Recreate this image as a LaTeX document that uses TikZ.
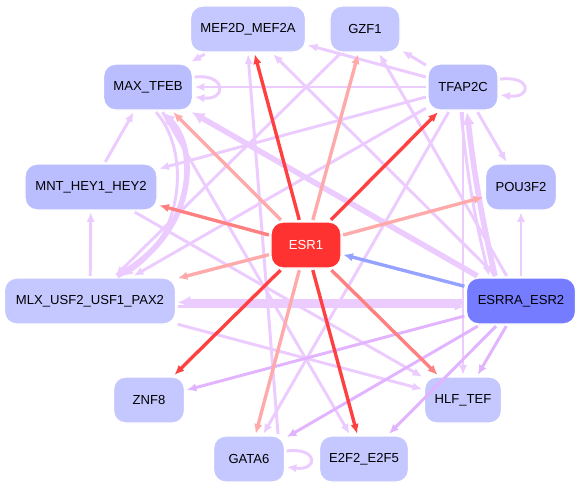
\documentclass[tikz,border=0pt]{standalone}
\usepackage{fontspec}
\setmainfont{Liberation Sans}
\usetikzlibrary{arrows.meta}
\definecolor{tfblue}{RGB}{186,190,255}
\definecolor{tflight}{RGB}{196,200,255}
\definecolor{tfesrra}{RGB}{118,124,255}
\definecolor{tfesr}{RGB}{255,50,50}
\definecolor{lav}{RGB}{236,204,255}
\definecolor{lavdark}{RGB}{226,180,255}
\definecolor{reddark}{RGB}{255,64,64}
\definecolor{redmid}{RGB}{255,128,128}
\definecolor{redlight}{RGB}{255,170,170}
\definecolor{bluedge}{RGB}{150,162,255}

\begin{document}
\begin{tikzpicture}[x=0.025cm, y=0.025cm,
    tf/.style={rectangle, rounded corners=0.3cm, draw=white, line width=1pt, fill=tfblue, minimum height=1.15cm, inner sep=0pt, outer sep=1.5pt, align=center, font=\fontsize{9.3}{11}\selectfont},
    tfl/.style={tf, fill=tflight},
    reg/.style={-{Latex[length=7pt,width=6pt]}, line width=2.1pt, draw=lav},
    regd/.style={reg, draw=lavdark},
    fat/.style={reg, line width=4pt, -{Latex[length=9pt,width=9pt]}},
    hit/.style={-{Latex[length=7pt,width=6pt]}, line width=2.4pt}
  ]
  \useasboundingbox (0,0) rectangle (582,-489);

  % transcription factors
  \node[tfl, minimum width=2.875cm] (mef) at (248,-29) {MEF2D\_MEF2A};
  \node[tfl, minimum width=1.75cm] (gzf) at (365,-29) {GZF1};
  \node[tf, minimum width=2.225cm] (maxt) at (148,-87) {MAX\_TFEB};
  \node[tf, minimum width=1.75cm] (tfap) at (463,-87) {TFAP2C};
  \node[tf, minimum width=3.3cm] (mnt) at (91,-187) {MNT\_HEY1\_HEY2};
  \node[tf, minimum width=1.775cm] (pou) at (521,-187) {POU3F2};
  \node[tf, fill=tfesr, text=white, minimum width=1.75cm] (esr) at (306,-245) {ESR1};
  \node[tfl, minimum width=4.275cm] (mlx) at (90,-301) {MLX\_USF2\_USF1\_PAX2};
  \node[tf, fill=tfesrra, minimum width=2.725cm] (esrra) at (521,-301) {ESRRA\_ESR2};
  \node[tfl, minimum width=1.775cm] (znf) at (149,-400) {ZNF8};
  \node[tfl, minimum width=1.925cm] (hlf) at (463,-400) {HLF\_TEF};
  \node[tfl, minimum width=1.775cm] (gata) at (249,-459) {GATA6};
  \node[tfl, minimum width=2.225cm] (e2f) at (364,-459) {E2F2\_E2F5};

  % self loops
  \draw[reg] (maxt.12) .. controls +(32,4) and +(32,-4) .. (maxt.-12);
  \draw[reg] (tfap.12) .. controls +(32,4) and +(32,-4) .. (tfap.-12);
  \draw[reg] (gata.12) .. controls +(32,4) and +(32,-4) .. (gata.-12);

  % regulations
  \draw[reg] (mef) -- (maxt);
  \draw[reg] (tfap) -- (gzf);
  \draw[reg] (tfap) -- (mef);
  \draw[reg] (tfap) -- (maxt);
  \draw[reg] (tfap) -- (mnt);
  \draw[reg] (tfap) -- (mlx);
  \draw[reg] (tfap) -- (pou);
  \draw[reg] (tfap) -- (hlf);
  \draw[reg] (tfap) -- (gata);
  \draw[reg] ([xshift=-0.05cm]tfap.south) to[bend right=4] ([xshift=-0.8cm]esrra.north);
  \draw[fat] ([xshift=-0.65cm]esrra.north) to[bend left=3] ([xshift=0.1cm]tfap.south);
  \draw[fat] ([xshift=0.675cm]mlx.north) .. controls (195,-235) and (200,-150) .. ([xshift=0.35cm]maxt.south);
  \draw[reg] ([xshift=0.2cm]maxt.south) .. controls (190,-150) and (185,-235) .. ([xshift=0.825cm]mlx.north);
  \draw[reg] (mnt) -- (maxt);
  \draw[reg] (mlx) -- (mnt);
  \draw[reg] (mnt) -- (hlf);
  \draw[reg] (mlx) -- (hlf);
  \draw[reg] (maxt) -- (e2f);
  \draw[reg] (gzf) -- (mlx);
  \draw[reg] ([xshift=0.725cm]gata.north) -- (mef.south);
  \draw[fat] (esrra) -- (maxt);
  \draw[reg] (esrra) -- (mef);
  \draw[reg] (esrra) -- (gzf);
  \draw[reg] (esrra) -- (pou);
  \draw[fat] ([yshift=-0.03cm]esrra.west) -- ([yshift=-0.03cm]mlx.east);
  \draw[reg] ([yshift=-0.14cm]mlx.east) -- ([yshift=-0.14cm]esrra.west);
  \draw[regd] (esrra) -- (hlf);
  \draw[regd] (esrra) -- (e2f);
  \draw[regd] (esrra) -- (gata);
  \draw[regd] (esrra) -- (znf);

  % ESR1 targets
  \draw[hit, reddark] (esr) -- (mef);
  \draw[hit, redlight] (esr) -- (gzf);
  \draw[hit, reddark] (esr) -- (tfap);
  \draw[hit, redlight] (esr) -- (maxt);
  \draw[hit, redmid] (esr) -- (mnt);
  \draw[hit, redlight] (esr) -- (pou);
  \draw[hit, redlight] (esr) -- (mlx);
  \draw[hit, reddark] (esr) -- (znf);
  \draw[hit, redlight] (esr) -- (gata);
  \draw[hit, reddark] (esr) -- (e2f);
  \draw[hit, redmid] (esr) -- (hlf);
  \draw[hit, bluedge] (esrra) -- (esr);
\end{tikzpicture}
\end{document}
